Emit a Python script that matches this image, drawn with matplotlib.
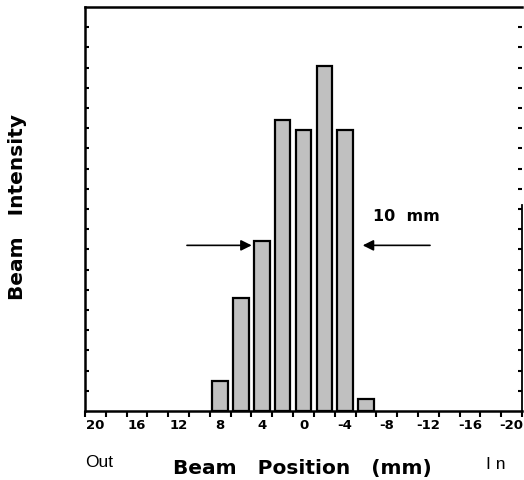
import matplotlib
matplotlib.use("Agg")
import matplotlib.pyplot as plt
import numpy as np

# Data
positions = [8, 6, 4, 2, 0, -2, -4, -6]           # beam position (mm)
intensity = [1.5, 5.6, 8.4, 14.4, 13.9, 17.1, 13.9, 0.6]
label_positions = [20, 16, 12, 8, 4, 0, -4, -8, -12, -16, -20]
label_texts = ["20", "16", "12", "8", "4", "0", "-4", "-8", "-12", "-16", "-20"]
fwhm_left, fwhm_right, fwhm_level = 4.98, -5.69, 8.2

plt.rcParams['font.family'] = ['DejaVu Sans']

fig = plt.figure(figsize=(5.24, 4.81), dpi=100)
ax = fig.add_axes([85/524, 1-412/481, (522-85)/524, (412-8)/481])

ax.bar(positions, intensity, width=1.5, color='#c0c0c0', edgecolor='black',
       linewidth=1.6, zorder=3)

ax.set_xlim(21, -21)
ax.set_ylim(0, 20)

# x ticks: marks at odd values, labels at even values between them
ax.set_xticks(np.arange(21, -22, -2))
ax.set_xticklabels([])
ax.tick_params(axis='x', which='major', direction='out', length=4, width=1.5,
               top=False)
ax.set_xticks(label_positions, minor=True)
ax.set_xticklabels(label_texts, minor=True, fontsize=9.5, fontweight='bold')
ax.tick_params(axis='x', which='minor', length=0, pad=5)

# y ticks: inward on both sides, no labels
ax.set_yticks(np.arange(1, 20, 1))
ax.set_yticklabels([])
ax.tick_params(axis='y', which='major', direction='in', length=3, width=1.5,
               left=True, right=True)
ax.set_yticks([10], minor=True)
ax.tick_params(axis='y', which='minor', direction='in', length=6, width=1.5,
               left=True, right=True)

for s in ['left', 'bottom', 'top']:
    ax.spines[s].set_linewidth(1.8)
ax.spines['right'].set_linewidth(1.3)
ax.spines['right'].set_bounds(0, 10.2)

# FWHM arrows
ax.annotate('', xy=(fwhm_left, fwhm_level), xytext=(11.2, fwhm_level),
            arrowprops=dict(arrowstyle='-|>', color='black', lw=1.2,
                            mutation_scale=16, shrinkA=0, shrinkB=0))
ax.annotate('', xy=(fwhm_right, fwhm_level), xytext=(-12.16, fwhm_level),
            arrowprops=dict(arrowstyle='-|>', color='black', lw=1.2,
                            mutation_scale=16, shrinkA=0, shrinkB=0))
ax.text(-9.85, 9.67, '10  mm', ha='center', va='center', fontsize=11.5,
        fontweight='bold')

# Labels
fig.text(302/524, 1-469/481, 'Beam   Position   (mm)', ha='center', va='center',
         fontsize=14.5, fontweight='bold')
fig.text(99/524, 1-463/481, 'Out', ha='center', va='center', fontsize=12.5,
         family='Liberation Sans')
fig.text(496/524, 1-465/481, 'I n', ha='center', va='center', fontsize=12.5,
         family='Liberation Sans')
fig.text(18/524, 1-207/481, 'Beam   Intensity', ha='center', va='center',
         rotation=90, fontsize=14.5, fontweight='bold')

fig.savefig('out.png', dpi=100)
